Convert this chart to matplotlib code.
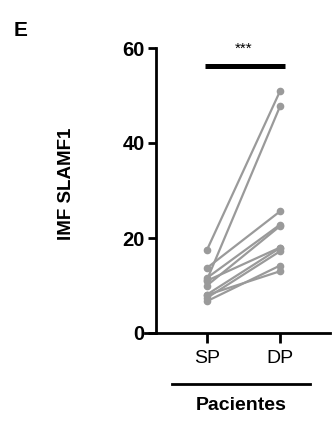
import numpy as np
import matplotlib.pyplot as plt

plt.rcParams['font.family'] = ['Liberation Sans', 'DejaVu Sans']

groups = ["SP", "DP"]
sp_vals = [17.5, 11.2, 13.7, 11.6, 10.0, 8.1, 7.4, 6.7, 8.0, 11.0]
dp_vals = [50.9, 47.7, 25.6, 22.8, 22.5, 17.9, 17.2, 14.2, 13.0, 18.0]
yticks = [0, 20, 40, 60]

W, H = 335, 428
fig = plt.figure(figsize=(W / 100, H / 100), dpi=100)
ax = fig.add_axes([145 / W, 1 - 333 / H, 185 / W, 285 / H])

# spine position first: it resets the ticks
for s in ["top", "right"]:
    ax.spines[s].set_visible(False)
ax.spines["left"].set_position(("data", -0.699))
ax.spines["left"].set_linewidth(2)
ax.spines["bottom"].set_linewidth(2)

grey = "#9a9a9a"
for a, b in zip(sp_vals, dp_vals):
    ax.plot([0, 1], [a, b], color=grey, lw=1.6, marker="o", ms=4.5,
            mfc=grey, mec=grey, solid_capstyle="round", clip_on=False)

ax.set_xlim(-0.849, 1.685)
ax.set_ylim(0, 60)
ax.set_xticks([0, 1])
ax.set_xticklabels(groups, fontsize=14)
ax.set_yticks(yticks)
ax.set_yticklabels([str(t) for t in yticks], fontsize=14.5, fontweight="bold")
ax.tick_params(axis="both", width=2, length=6, pad=2)
ax.tick_params(axis="x", length=7, pad=5)

ax.set_ylabel("IMF SLAMF1", fontsize=13.5, fontweight="bold")
ax.yaxis.set_label_coords(-0.38, 0.523)

# significance bar
ax.plot([-0.03, 1.07], [56.2, 56.2], color="black", lw=3.6, solid_capstyle="butt", clip_on=False)
ax.text(0.5, 58.3, "***", ha="center", va="bottom", fontsize=11)

# group underline and label
fig.add_artist(plt.Line2D([172 / W, 310 / W], [1 - 384 / H, 1 - 384 / H],
                          color="black", lw=2))
fig.text(241 / W, 1 - 405 / H, "Pacientes", ha="center", va="center",
         fontsize=14, fontweight="bold")

fig.text(14 / W, 1 - 30 / H, "E", ha="left", va="center", fontsize=15, fontweight="bold")

fig.savefig("out.png", dpi=100)
